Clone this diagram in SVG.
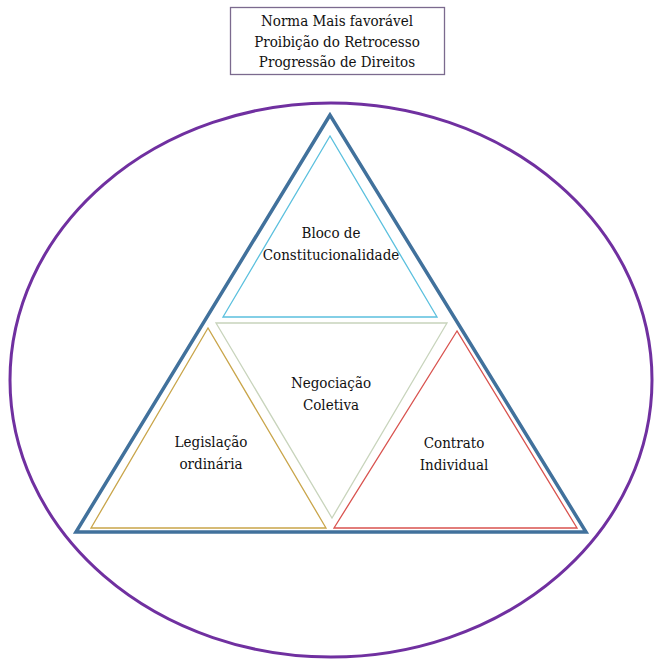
<svg xmlns="http://www.w3.org/2000/svg" width="654" height="659" viewBox="0 0 654 659">
<style>
.t{font-family:'DejaVu Serif Condensed','DejaVu Serif',serif;font-stretch:condensed;font-size:15px;fill:#111;text-anchor:middle}
.tri{fill:none;stroke-width:1.3}
</style>
<rect width="654" height="659" fill="#fff"/>
<g id="ellipse"><ellipse cx="331" cy="380" rx="321" ry="277" fill="none" stroke="#7030A0" stroke-width="3"/></g>
<g id="header" class="t">
<rect x="230.5" y="7.5" width="214" height="67" fill="#fff" stroke="#7B6A8E" stroke-width="1.3"/>
<text x="337" y="26">Norma Mais favorável</text>
<text x="337" y="47">Proibição do Retrocesso</text>
<text x="337" y="67">Progressão de Direitos</text>
</g>
<g id="outer-triangle"><polygon points="330,115 76,532 586,532" fill="none" stroke="#41719C" stroke-width="3.5" stroke-linejoin="miter"/></g>
<g id="bloco" class="t">
<polygon class="tri" points="330,136 223,317 437,317" stroke="#5BC0DE"/>
<text x="331" y="238">Bloco de</text>
<text x="331" y="260">Constitucionalidade</text>
</g>
<g id="negociacao" class="t">
<polygon class="tri" points="216,323 447,323 332,518" stroke="#C8D4BC"/>
<text x="331" y="388">Negociação</text>
<text x="331" y="410">Coletiva</text>
</g>
<g id="legislacao" class="t">
<polygon class="tri" points="208,328 91,528 326,528" stroke="#C9A54A"/>
<text x="211" y="447">Legislação</text>
<text x="211" y="469">ordinária</text>
</g>
<g id="contrato" class="t">
<polygon class="tri" points="457,331 334,528 577,528" stroke="#D9534F"/>
<text x="454" y="448">Contrato</text>
<text x="454" y="470">Individual</text>
</g>
<g id="connectors"/>
</svg>
